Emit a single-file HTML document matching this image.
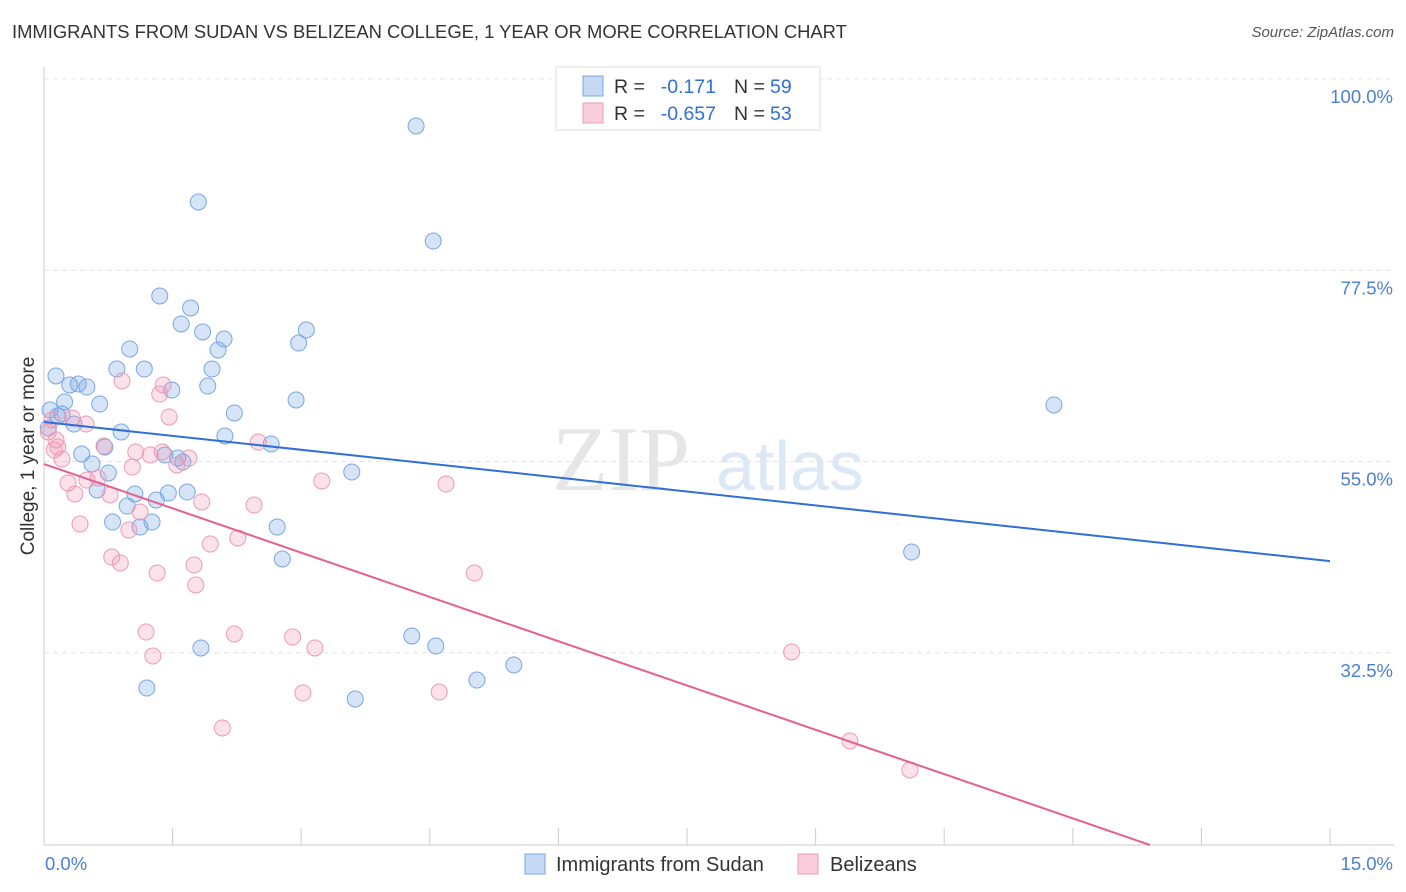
<!DOCTYPE html>
<html><head><meta charset="utf-8">
<style>
body{margin:0;background:#fff;font-family:"Liberation Sans",sans-serif;}
#wrap{position:relative;width:1406px;height:892px;overflow:hidden;}
.t{position:absolute;white-space:nowrap;}
</style></head>
<body>
<div id="wrap">
<div class="t" style="left:12px;top:21px;font-size:18.4px;color:#333;">IMMIGRANTS FROM SUDAN VS BELIZEAN COLLEGE, 1 YEAR OR MORE CORRELATION CHART</div>
<div class="t" style="right:12px;top:24px;font-size:15px;color:#555;font-style:italic;">Source: ZipAtlas.com</div>
<svg id="svg" width="1406" height="892" style="position:absolute;left:0;top:0;font-family:'Liberation Sans',sans-serif;"></svg>
</div>
<script>
const xTickVals=[0,1.5,3,4.5,6,7.5,9,10.5,12,13.5,15];
const yTickVals=[100,77.5,55,32.5];
const yTickLabels=["100.0%","77.5%","55.0%","32.5%"];
const xEndLabels=["0.0%","15.0%"];
const sudanX=[4.34,1.80,4.54,1.35,1.71,1.60,1.85,2.10,3.06,2.97,1.00,2.03,0.85,1.17,1.96,0.14,0.30,0.40,0.50,1.91,1.49,0.65,0.24,2.94,11.78,2.22,0.07,0.16,0.21,0.35,0.05,0.90,2.11,2.65,0.71,0.44,1.41,1.56,1.62,0.56,0.75,3.59,0.62,1.06,1.67,1.45,0.97,1.31,0.80,1.26,1.12,2.72,2.78,10.12,1.83,4.29,4.57,5.48,5.05,1.20,3.63];
const sudanY=[94.47,85.53,80.94,74.47,73.06,71.18,70.24,69.41,70.47,68.94,68.24,68.12,65.88,65.88,65.88,65.06,64.0,64.12,63.76,63.88,63.41,61.76,62.0,62.24,61.65,60.71,61.06,60.35,60.59,59.41,58.94,58.47,58.0,57.06,56.71,55.88,55.76,55.41,54.94,54.71,53.65,53.76,51.65,51.18,51.41,51.29,49.76,50.47,47.88,47.88,47.29,47.29,43.53,44.35,33.06,34.47,33.29,31.06,29.29,28.35,27.06];
const belizeX=[0.91,1.39,1.35,1.46,0.33,0.49,0.09,0.14,0.16,0.21,0.70,2.50,1.07,1.24,1.38,1.69,1.55,1.03,0.28,0.50,0.63,0.77,0.36,3.24,4.69,1.84,2.45,1.12,0.42,0.99,2.26,1.94,0.79,0.89,1.75,1.32,5.02,1.77,1.19,2.22,2.90,3.16,1.27,8.72,3.02,4.61,2.08,9.40,10.10,0.05,0.12];
const belizeY=[64.47,64.0,62.94,60.24,60.12,59.41,59.88,57.53,56.71,55.29,56.82,57.29,56.12,55.76,56.12,55.41,54.59,54.35,52.47,52.82,53.06,51.06,51.18,52.71,52.35,50.24,49.88,49.06,47.65,46.94,46.0,45.29,43.76,43.06,42.82,41.88,41.88,40.47,34.94,34.71,34.35,33.06,32.12,32.59,27.76,27.88,23.65,22.12,18.71,58.47,56.35];
const sudanTrend=[59.65,-1.091];
const belizeTrend=[54.7,-3.474];
const legendR=["-0.171","-0.657"];
const legendN=["59","53"];

const NS="http://www.w3.org/2000/svg";
const svg=document.getElementById('svg');
const X0=44,X1=1330,YMAX=100,Y100=79,PX=8.5,YBOT=845;
function sx(v){return X0+v/15*(X1-X0);}
function sy(v){return Y100+(YMAX-v)*PX;}
const yMin=YMAX-(YBOT-Y100)/PX;
function mk(tag,attrs,name,txt){const e=document.createElementNS(NS,tag);for(const k in attrs)e.setAttribute(k,attrs[k]);


if(txt!==undefined)e.textContent=txt;svg.appendChild(e);return e;}

mk('text',{x:552,y:490,'font-size':92,fill:'#e6e6e6','font-family':'Liberation Serif,serif'},'watermark-zip','ZIP');
mk('text',{x:716,y:490,'font-size':70,fill:'#dce8f6'},'watermark-atlas','atlas');
yTickVals.forEach((v,i)=>{
 mk('line',{x1:X0,x2:1394,y1:sy(v),y2:sy(v),stroke:'#e4e4e4','stroke-dasharray':'5,4'},'gridline-y');
 mk('text',{x:1393,y:sy(v)+24,'text-anchor':'end','font-size':18.5,fill:'#4a7fd4'},'y-tick-label',yTickLabels[i]);
});
mk('line',{x1:X0,x2:X0,y1:67,y2:YBOT,stroke:'#ccc'},'y-axis');
mk('line',{x1:X0,x2:1394,y1:YBOT,y2:YBOT,stroke:'#ccc'},'x-axis');
xTickVals.forEach(v=>{mk('line',{x1:sx(v),x2:sx(v),y1:828,y2:YBOT,stroke:'#ccc'},'x-tick');});
mk('text',{x:45,y:870,'font-size':18.5,fill:'#4a7fd4'},'x-tick-label',xEndLabels[0]);
mk('text',{x:1393,y:870,'text-anchor':'end','font-size':18.5,fill:'#4a7fd4'},'x-tick-label',xEndLabels[1]);
mk('text',{x:34,y:456,'font-size':19,fill:'#333','text-anchor':'middle',transform:'rotate(-90 34 456)'},'y-axis-title','College, 1 year or more');

function dots(xs,ys,fill,stroke,name){xs.forEach((x,i)=>{mk('circle',{cx:sx(x),cy:sy(ys[i]),r:8,fill:fill,stroke:stroke,'stroke-width':1},name);});}
dots(sudanX,sudanY,'rgba(120,165,230,0.3)','#7aa6e2','sudan-point');
dots(belizeX,belizeY,'rgba(240,150,180,0.28)','#ec9ab5','belizean-point');
function trend(t,col,name){const x2v=Math.min(15,(yMin-t[0])/t[1]);
 mk('line',{x1:sx(0),y1:sy(t[0]),x2:sx(x2v),y2:sy(t[0]+t[1]*x2v),stroke:col,'stroke-width':2},name);}
trend(sudanTrend,'#2f6fd6','sudan-trend-line');
trend(belizeTrend,'#e5608d','belizean-trend-line');

mk('rect',{x:556,y:67,width:264,height:63,fill:'#fff',stroke:'#ddd'},'legend-box');
const cols=[['#c5d9f5','#7aa6e2'],['#f9cddb','#ec9ab5']];
[0,1].forEach(i=>{const y=86+i*27;
 mk('rect',{x:583,y:y-10,width:20,height:20,fill:cols[i][0],stroke:cols[i][1]},'legend-swatch');
 mk('text',{x:614,y:y+7,'font-size':19.5,fill:'#333'},'legend-r-label','R =');
 mk('text',{x:716,y:y+7,'font-size':19.5,fill:'#2f6fd6','text-anchor':'end'},'legend-r-value',legendR[i]);
 mk('text',{x:734,y:y+7,'font-size':19.5,fill:'#333'},'legend-n-label','N =');
 mk('text',{x:770,y:y+7,'font-size':19.5,fill:'#2f6fd6'},'legend-n-value',legendN[i]);
});
mk('rect',{x:525,y:854,width:20,height:20,fill:cols[0][0],stroke:cols[0][1]},'legend-entry-sudan-swatch');
mk('text',{x:556,y:871,'font-size':20,fill:'#333'},'legend-entry-sudan','Immigrants from Sudan');
mk('rect',{x:798,y:854,width:20,height:20,fill:cols[1][0],stroke:cols[1][1]},'legend-entry-belizean-swatch');
mk('text',{x:830,y:871,'font-size':20,fill:'#333'},'legend-entry-belizean','Belizeans');
</script>
</body></html>
